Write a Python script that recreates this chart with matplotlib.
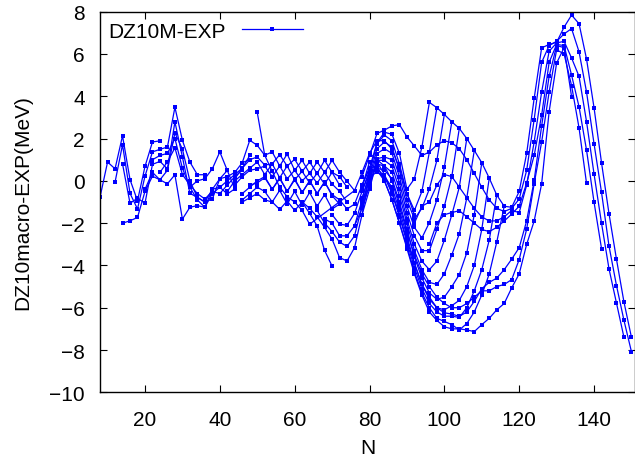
import numpy as np
import matplotlib
matplotlib.use("Agg")
import matplotlib.pyplot as plt

plt.rcParams['font.family'] = ['Liberation Sans', 'DejaVu Sans']

# --- isotopic chains: first N, then values at N, N+2, N+4, ... (MeV) ---
# light region
l1_n0, l1 = 8, [-0.76, 0.89, 0.57, 2.13, 0.06, -0.94, 0.68, 1.84, 1.89]
l2_n0, l2 = 12, [-0.06, 1.71, -0.59, -1.33, 0.22, 1.37, 1.49, 1.6, 3.48, 1.92, 0.89, 0.29, 0.29]
l3_n0, l3 = 14, [0.8, -1.06, -0.82, -1.06, 0.78, 0.92, 0.57, 2.79, 1.13, -0.59, -0.78, -1.0, -0.86, 0.1, 0.49]
l4_n0, l4 = 14, [-2.0, -1.89, -1.73, -0.5, 0.22, 0.05, -0.14, 0.29, -1.81, -1.25, -1.17, -1.25, -0.4, -0.3, -0.62, -0.38]
l5_n0, l5 = 20, [-0.4, 0.4, 0.05, 0.5, 2.27, 1.5, 0.0, -0.78, -1.0, -0.4, 0.1, 0.2, 0.4, 0.86, 1.0]
l6_n0, l6 = 22, [1.0, 1.2, 1.3, 2.0, 0.6, -0.3, -0.9, -1.25, -0.6, -0.3, 0.0, 0.3, 0.6, 1.2]
l7_n0, l7 = 24, [0.4, 0.9, 1.56, 0.3, -0.2, -0.6, -0.86, -0.5, -0.6, -0.2, 0.2, 0.5]
l8_n0, l8 = 32, [-0.3, 0.0, 0.1, 0.57, 1.37, 0.49, -0.38]

# middle region (zigzag lattice)
m1_n0, m1 = 46, [0.86, 1.92, 1.68, 1.21, 1.37, 0.7, 1.27, 0.5, 0.97, 0.35, 0.89, 0.4, 0.97, 0.41, -0.02, -0.46]
m2_n0, m2 = 44, [0.1, 0.6, 1.0, 1.13, 0.75, 0.8, 1.24, 0.7, 1.02, 0.45, 0.89, 0.35, 0.97, 0.4, 0.2, -0.3]
m3_n0, m3 = 42, [-0.5, 0.0, 0.3, 0.6, 0.89, 0.3, 0.8, 0.15, 0.7, 0.05, 0.45, -0.1, 0.35, -0.15, 0.4, -0.2]
m4_n0, m4 = 44, [-0.2, 0.2, 0.5, 0.57, 0.7, 0.2, 0.7, 0.1, 0.5, 0.0, 0.35, -0.1, 0.4, -0.15, -0.5, -1.0]
m5_n0, m5 = 46, [-0.6, -0.3, 0.0, 0.2, -0.4, 0.15, -0.5, 0.1, -0.55, 0.0, -0.6, -0.05, -0.65, -0.9, -1.33]
m6_n0, m6 = 46, [-0.9, -0.6, -0.3, -0.5, -1.0, -0.45, -1.1, -0.5, -1.15, -0.55, -1.2, -0.65, -1.33, -1.1]
m7_n0, m7 = 46, [-1.0, -0.8, -0.6, -0.9, -1.0, -1.35, -0.95, -1.4, -1.0, -1.54, -2.13, -3.29, -4.03]
m8_n0, m8 = 48, [-0.2, -0.1, 0.15, -0.4, 0.1, -0.5, 0.05, -0.55, 0.0, -0.6, -0.05, -0.7, -1.1]

# chain with a gap in N
s1_n = [50, 52, 54, 56, 58, 60, 62, 64, 76, 78, 80, 82, 84, 86, 88, 90, 92]
s1 = [3.24, 1.21, 0.45, -0.3, -0.75, -1.0, -1.4, -2.05, -0.46, 0.4, 1.3, 1.9, 1.9, 1.5, 0.6, -0.6, -1.6]

# heavy region, valley chains
v0_n0, v0 = 78, [-0.2, 0.6, 1.8, 2.3, 2.2, 1.3, -0.4, 0.1, 1.6, 3.71]
v1_n0, v1 = 78, [-0.5, 0.4, 1.76, 2.16, 1.9, 0.8, -0.6, -1.4, -0.5, 1.36, 3.46]
v2_n0, v2 = 78, [-0.8, 0.2, 1.52, 1.84, 1.6, 0.5, -0.9, -1.8, -1.3, -0.38, 0.97, 3.14]
v3_n0, v3 = 78, [-1.0, 0.0, 1.29, 1.52, 1.3, 0.2, -1.2, -2.2, -2.7, -1.97, -0.9, 0.65, 2.79]
v4_n0, v4 = 78, [-1.3, -0.2, 1.05, 1.13, 1.0, -0.1, -1.5, -2.6, -3.3, -3.3, -2.3, -1.2, 0.22, 2.48]
v5_n0, v5 = 78, [-1.6, -0.4, 0.97, 0.97, 0.7, -0.4, -1.8, -3.0, -3.8, -4.2, -3.8, -2.8, -1.6, -0.3, 2.0]
v6_n0, v6 = 76, [-2.13, -1.3, -0.2, 0.8, 0.7, 0.4, -0.7, -2.0, -3.3, -4.2, -4.8, -4.9, -4.4, -3.5, -2.5, -0.8, 1.44]
v7_n0, v7 = 62, [-1.0, -1.3, -1.7, -2.2, -2.76, -3.63, -3.79, -3.16, -1.6, 0.3, 0.6, 0.5, 0.1, -1.0, -2.3,
                 -3.6, -4.6, -5.3, -5.6, -5.5, -5.0, -4.43, -3.4, -1.6, 0.86]
v8_n0, v8 = 66, [-1.4, -2.0, -2.4, -2.9, -3.1, -2.6, -1.2, 0.2, 0.4, 0.2, -0.3, -1.4, -2.6, -3.9, -4.9,
                 -5.6, -6.0, -6.1, -5.9, -5.65, -5.0, -4.0, -2.3, 0.13]
v9_n0, v9 = 68, [-1.8, -2.0, -2.6, -2.6, -2.13, -0.9, 0.4, 0.6, 0.2, -0.6, -1.7, -2.9, -4.1, -5.1, -5.8,
                 -6.2, -6.4, -6.4, -6.46, -6.0, -5.2, -4.2, -2.8, -0.67]
v10_n0, v10 = 70, [-1.6, -2.05, -2.1, -1.54, -0.5, 0.5, 0.5, 0.0, -0.9, -2.0, -3.1, -4.3, -5.3, -6.0, -6.5,
                   -6.65, -6.8, -7.05, -6.75, -6.2, -5.4, -4.4, -2.9, -1.2]

# deep chains running on to the N~130 peak
w1_n0, w1 = 74, [-1.33, -1.1, -0.2, 0.6, 0.7, 0.0, -0.9, -2.0, -3.2, -4.4, -5.4, -6.2, -6.6, -6.9, -7.0,
                 -7.0, -7.05, -7.13, -6.8, -6.5, -6.1, -5.8, -5.06, -4.4, -3.0, -1.9, -0.14, 3.27, 5.57, 6.3]
w2_n0, w2 = 78, [-0.3, 0.9, 0.9, 0.3, -0.5, -1.6, -2.8, -3.9, -4.9, -5.5, -6.0, -6.24, -6.3, -6.41, -6.2,
                 -5.7, -5.1, -4.8, -4.6, -4.2, -3.7, -3.16, -1.89, 0.02, 2.6, 4.94, 6.4, 6.3, 3.98]
w3_n0, w3 = 80, [1.3, 1.0, 0.7, 0.0, -1.2, -2.4, -3.5, -4.4, -5.0, -5.5, -5.8, -6.0, -6.0, -5.8, -5.5,
                 -5.2, -5.2, -5.0, -4.9, -4.67, -3.72, -2.28, -0.14, 1.84, 4.2, 6.2, 6.0, 4.5, 2.5, -0.12]

# upper chains
h1_n0, h1 = 96, [3.71, 3.46, 3.14, 2.79, 2.48, 2.0, 1.44, 0.86, 0.13, -0.67, -1.2, -1.25, -0.5, 1.3,
                 3.9, 6.29, 6.45, 6.55, 7.27, 7.84, 7.43, 5.76, 3.46, 0.86, -1.55, -3.71, -5.73, -7.4]
h2_n0, h2 = 78, [0.2, 1.2, 2.24, 2.4, 2.6, 2.66, 2.08, 1.65, 1.2, 1.36, 1.7, 1.9, 1.8, 1.52, 1.0, 0.35,
                 -0.3, -0.9, -1.3, -1.45, -1.3, -0.86, 0.5, 2.9, 5.6, 6.4, 6.6, 6.95, 7.2, 6.1, 4.2,
                 1.76, -0.54, -3.08, -4.95, -6.6, -8.08]
h3_n0, h3 = 92, [-2.0, -1.2, -1.0, -0.2, 0.3, 0.2, -0.3, -0.8, -1.3, -1.7, -1.9, -1.89, -1.7, -1.4, -1.5,
                 -0.2, 1.84, 4.2, 6.13, 6.52, 6.6, 5.81, 4.94, 2.8, 0.33, -2.0, -4.16, -5.78, -7.4]
h4_n0, h4 = 96, [-3.0, -2.0, -1.6, -1.5, -1.41, -1.7, -2.0, -2.3, -2.4, -2.2, -1.9, -1.57, -1.2, -0.1,
                 1.2, 3.1, 5.6, 6.45, 6.4, 5.0, 3.5, 1.45, -1.0, -3.2]

chains = [(l1_n0, l1), (l2_n0, l2), (l3_n0, l3), (l4_n0, l4), (l5_n0, l5), (l6_n0, l6),
          (l7_n0, l7), (l8_n0, l8),
          (m1_n0, m1), (m2_n0, m2), (m3_n0, m3), (m4_n0, m4), (m5_n0, m5), (m6_n0, m6),
          (m7_n0, m7), (m8_n0, m8),
          (v0_n0, v0), (v1_n0, v1), (v2_n0, v2), (v3_n0, v3), (v4_n0, v4), (v5_n0, v5),
          (v6_n0, v6), (v7_n0, v7), (v8_n0, v8), (v9_n0, v9), (v10_n0, v10),
          (w1_n0, w1), (w2_n0, w2), (w3_n0, w3),
          (h1_n0, h1), (h2_n0, h2), (h3_n0, h3), (h4_n0, h4)]

x_ticks = [20, 40, 60, 80, 100, 120, 140]
y_ticks = [-10, -8, -6, -4, -2, 0, 2, 4, 6, 8]

# --- figure, gnuplot-like look ---
fig = plt.figure(figsize=(6.35, 4.6), dpi=100)
ax = fig.add_axes([0.1576, 0.145, 0.8427, 0.8274])

style = dict(color='#0000ff', lw=0.9, marker='s', ms=2.2, mew=0)
ax.plot(s1_n, s1, label='DZ10M-EXP', **style)
for n0, vals in chains:
    n = np.arange(n0, n0 + 2 * len(vals), 2)
    ax.plot(n, vals, **style)

ax.set_xlim(8, 151)
ax.set_ylim(-10, 8)
ax.set_xticks(x_ticks)
ax.set_yticks(y_ticks)
ax.tick_params(direction='in', top=True, right=True, length=5, width=0.8, labelsize=15)
ax.tick_params(axis='x', pad=13)
ax.tick_params(axis='y', pad=11)
for sp in ax.spines.values():
    sp.set_linewidth(1.0)

ax.set_xlabel('N', fontsize=15, labelpad=6)
ax.set_ylabel('DZ10macro-EXP(MeV)', fontsize=15, labelpad=12)

ax.legend(loc='upper left', bbox_to_anchor=(0.015, 0.974), frameon=False,
          markerfirst=False, fontsize=15, handlelength=2.9, handletextpad=0.8,
          borderpad=0, borderaxespad=0, numpoints=1)

fig.savefig('out.png', dpi=100)
